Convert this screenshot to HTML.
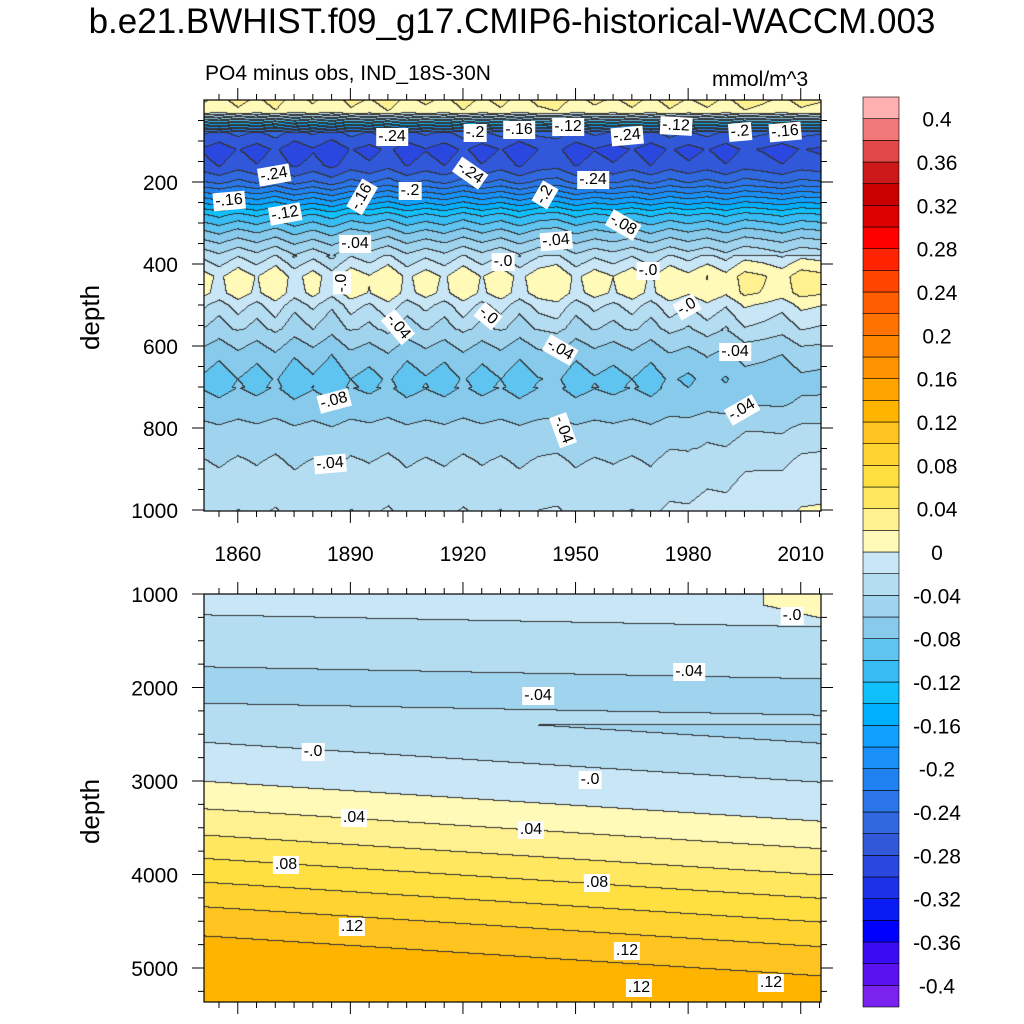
<!DOCTYPE html>
<html><head><meta charset="utf-8">
<style>
body{margin:0;background:#fff;font-family:"Liberation Sans",sans-serif;}
#root{position:relative;width:1024px;height:1024px;overflow:hidden;}
.t{position:absolute;white-space:nowrap;color:#000;}
canvas{position:absolute;}
.lab{position:absolute;background:#fff;font-size:16px;padding:0 2px;line-height:18px;transform:translate(-50%,-50%);}
</style></head><body>
<div id="root">
<div class="t" style="left:0;width:1024px;text-align:center;top:2px;font-size:35px;">b.e21.BWHIST.f09_g17.CMIP6-historical-WACCM.003</div>
<div class="t" style="left:205px;top:62px;font-size:21px;">PO4 minus obs, IND_18S-30N</div>
<div class="t" style="left:712px;top:68px;font-size:21px;">mmol/m^3</div>
<div class="t" style="left:58px;top:302px;font-size:26px;transform:rotate(-90deg);">depth</div>
<div class="t" style="left:58px;top:796px;font-size:26px;transform:rotate(-90deg);">depth</div>
<canvas id="c1" width="617" height="411" style="left:204px;top:100px"></canvas>
<canvas id="c2" width="617" height="408" style="left:204px;top:594px"></canvas>
<svg id="ax" width="1024" height="1024" style="position:absolute;left:0;top:0"></svg>
<div id="labs"></div>
</div>
<script>
// ---- data ----
const levels=[-0.4,-0.38,-0.36,-0.34,-0.32,-0.3,-0.28,-0.26,-0.24,-0.22,-0.2,-0.18,-0.16,-0.14,-0.12,-0.1,-0.08,-0.06,-0.04,-0.02,0,0.02,0.04,0.06,0.08,0.1,0.12,0.14,0.16,0.18,0.2,0.22,0.24,0.26,0.28,0.3,0.32,0.34,0.36,0.38,0.4];
const colors=["#7a22ee","#5a12f0","#3a0cf4","#0000ff","#0a1cf4","#1c32e8","#2a48e0","#3058d8","#3068e0","#2a76e8","#2082f0","#1890f8","#10a0ff","#00b0ff","#10c0fc","#38bcf4","#60c4f0","#88caec","#a0d4ee","#b4ddf2","#c8e6f6","#fffab8","#fff090","#ffe860","#ffe040","#ffd430","#ffc420","#ffb400","#ffa400","#ff9400","#ff8400","#ff7200","#ff5e00","#ff4400","#ff2400","#ff0000","#dd0000","#c80000","#cc1818","#e04848","#f07878","#ffb0b0"];
const cbLabels=["0.4","0.36","0.32","0.28","0.24","0.2","0.16","0.12","0.08","0.04","0","-0.04","-0.08","-0.12","-0.16","-0.2","-0.24","-0.28","-0.32","-0.36","-0.4"];
const xTicks=[1860,1890,1920,1950,1980,2010];
const topDepths=[0,30,55,80,120,160,200,240,280,320,360,400,430,470,500,560,620,680,740,800,880,950,1000];
const topValues=[0.02,0.01,-0.12,-0.26,-0.285,-0.275,-0.24,-0.18,-0.12,-0.08,-0.045,-0.015,0.005,0.002,-0.02,-0.045,-0.07,-0.086,-0.075,-0.055,-0.04,-0.03,-0.022];
const anomYears=[1850,1855,1860,1865,1870,1875,1880,1885,1890,1895,1900,1905,1910,1915,1920,1925,1930,1935,1940,1945,1950,1955,1960,1965,1970,1975,1980,1985,1990,1995,2000,2005,2010,2015];
const anomValues=[0.004,-0.006,0.006,-0.004,0.008,-0.008,0.003,-0.01,0.006,-0.002,0.009,-0.006,0.004,-0.005,0.008,-0.004,0.006,-0.007,0.005,0.009,-0.006,0.004,-0.003,0.006,-0.005,0.007,-0.002,0.006,-0.004,0.008,0.003,-0.004,0.006,0.002];
const botDepths=[1000,1500,2000,2500,3000,3500,4000,4500,5000,5400];
const botValues=[-0.012,-0.03,-0.048,-0.024,0.0,0.034,0.074,0.112,0.138,0.132];
// ---- helpers ----
function interp(xs,ys,x){if(x<=xs[0])return ys[0];for(let i=1;i<xs.length;i++)if(x<=xs[i]){const t=(x-xs[i-1])/(xs[i]-xs[i-1]);return ys[i-1]+t*(ys[i]-ys[i-1]);}return ys[ys.length-1];}
const X0=204,X1=821,Y0=1851,Y1=2015.4;
const yr=px=>Y0+(px/(X1-X0))*(Y1-Y0);
const xOf=y=>X0+(y-Y0)/(Y1-Y0)*(X1-X0);
function lvl(v){let i=0;while(i<levels.length&&v>=levels[i])i++;return i;}
function hex(c){return[parseInt(c.substr(1,2),16),parseInt(c.substr(3,2),16),parseInt(c.substr(5,2),16)];}
const rgb=colors.map(hex);
function draw(id,h,fn){
 const cv=document.getElementById(id),ctx=cv.getContext('2d'),w=cv.width;
 const img=ctx.createImageData(w,h);const L=new Int16Array(w*h);
 for(let j=0;j<h;j++)for(let i=0;i<w;i++)L[j*w+i]=lvl(fn(yr(i),j));
 for(let j=0;j<h;j++)for(let i=0;i<w;i++){const k=j*w+i;let c=rgb[L[k]];
  if((i<w-1&&L[k]!==L[k+1])||(j<h-1&&L[k]!==L[k+w]))c=[50,50,50];
  img.data[k*4]=c[0];img.data[k*4+1]=c[1];img.data[k*4+2]=c[2];img.data[k*4+3]=255;}
 ctx.putImageData(img,0,0);
}
draw('c1',411,(y,j)=>{const d=j/0.41;const a=interp(anomYears,anomValues,y);
 let w=d>380&&d<560?1.6:(d>700?0.4:1.0);
 let v=interp(topDepths,topValues,d)+a*w;
 if(d>380)v+=Math.max(0,(y-1970))*0.0004*(d>850?1.3:1);
 return v;});
draw('c2',408,(y,j)=>{const d=1000+j/0.0935;const s=(y-1850)*2.6;
 let v=interp(botDepths,botValues,d-s*(d>2400?1:0.3));
 if(d<1300)v+=Math.max(0,y-1960)*0.0003;return v;});
// ---- axes ----
const NS='http://www.w3.org/2000/svg',ax=document.getElementById('ax');
function el(t,a,txt){const e=document.createElementNS(NS,t);for(const k in a)e.setAttribute(k,a[k]);if(txt!==undefined)e.textContent=txt;ax.appendChild(e);return e;}
function frame(top,bot,name){const r=el('rect',{x:X0,y:top,width:X1-X0,height:bot-top,fill:'none',stroke:'#000','stroke-width':1.2});}
frame(100,511,'top-panel-frame');frame(594,1002,'bottom-panel-frame');
for(let y=1850;y<=2015;y+=5){const x=xOf(y);if(x<X0||x>X1)continue;const big=xTicks.includes(y);const l=big?12:6;
 [[100,-1],[511,1],[594,-1],[1002,1]].forEach(([b,s])=>{const t=el('line',{x1:x,x2:x,y1:b,y2:b+s*l,stroke:'#000'});});}
xTicks.forEach(y=>{const t=el('text',{x:xOf(y),y:561,'font-size':21,'text-anchor':'middle','font-family':'Liberation Sans'},String(y));});
const topDT=[200,400,600,800,1000];
for(let d=50;d<=1000;d+=50){const yy=100+d*0.41;if(yy>511)continue;const l=d%200===0?12:6;el('line',{x1:X0,x2:X0-l,y1:yy,y2:yy,stroke:'#000'});el('line',{x1:X1,x2:X1+l,y1:yy,y2:yy,stroke:'#000'});}
topDT.forEach(d=>{const t=el('text',{x:178,y:100+d*0.41+8,'font-size':21,'text-anchor':'end','font-family':'Liberation Sans'},String(d));});
const botDT=[1000,2000,3000,4000,5000];
for(let d=1000;d<=5400;d+=250){const yy=594+(d-1000)*0.0935;if(yy>1002)continue;const l=d%1000===0?12:6;el('line',{x1:X0,x2:X0-l,y1:yy,y2:yy,stroke:'#000'});el('line',{x1:X1,x2:X1+l,y1:yy,y2:yy,stroke:'#000'});}
botDT.forEach(d=>{const t=el('text',{x:178,y:594+(d-1000)*0.0935+8,'font-size':21,'text-anchor':'end','font-family':'Liberation Sans'},String(d));});
// colorbar
const CB0=97,CBH=910/colors.length;
for(let k=0;k<colors.length;k++){const r=el('rect',{x:863,y:CB0+(colors.length-1-k)*CBH,width:36,height:CBH,fill:colors[k],stroke:'#000','stroke-width':0.6});}
cbLabels.forEach((s,i)=>{const t=el('text',{x:937,y:CB0+(1+2*i)*CBH+8,'font-size':21,'text-anchor':'middle','font-family':'Liberation Sans'},s);});
// contour labels
const labs=[[392,137,"-.24",0],[475,133,"-.2",0],[519,130,"-.16",0],[568,127,"-.12",0],[627,136,"-.24",-5],[676,126,"-.12",3],[740,132,"-.2",-5],[785,132,"-.16",-5],[274,175,"-.24",-10],[410,191,"-.2",0],[470,173,"-.24",35],[362,197,"-.16",-60],[545,195,"-.2",-60],[593,180,"-.24",0],[229,201,"-.16",-5],[285,214,"-.12",-10],[623,225,"-.08",30],[355,244,"-.04",0],[556,241,"-.04",-5],[503,262,"-.0",0],[648,271,"-.0",0],[342,283,"-.0",-90],[687,307,"-.0",-30],[398,327,"-.04",50],[488,316,"-.0",40],[560,350,"-.04",30],[735,352,"-.04",0],[334,401,"-.08",-15],[742,410,"-.04",-30],[563,430,"-.04",70],[330,464,"-.04",-5],
[792,616,"-.0",0],[689,672,"-.04",0],[538,696,"-.04",0],[313,752,"-.0",0],[590,780,"-.0",0],[354,818,".04",0],[531,830,".04",0],[286,865,".08",0],[597,883,".08",0],[352,927,".12",0],[627,951,".12",0],[639,988,".12",0],[771,983,".12",0]];
const LD=document.getElementById('labs');
labs.forEach(([x,y,s,r])=>{const d=document.createElement('div');d.className='lab';d.style.left=x+'px';d.style.top=y+'px';d.style.transform='translate(-50%,-50%) rotate('+r+'deg)';d.textContent=s;


LD.appendChild(d);});
</script>
</body></html>
